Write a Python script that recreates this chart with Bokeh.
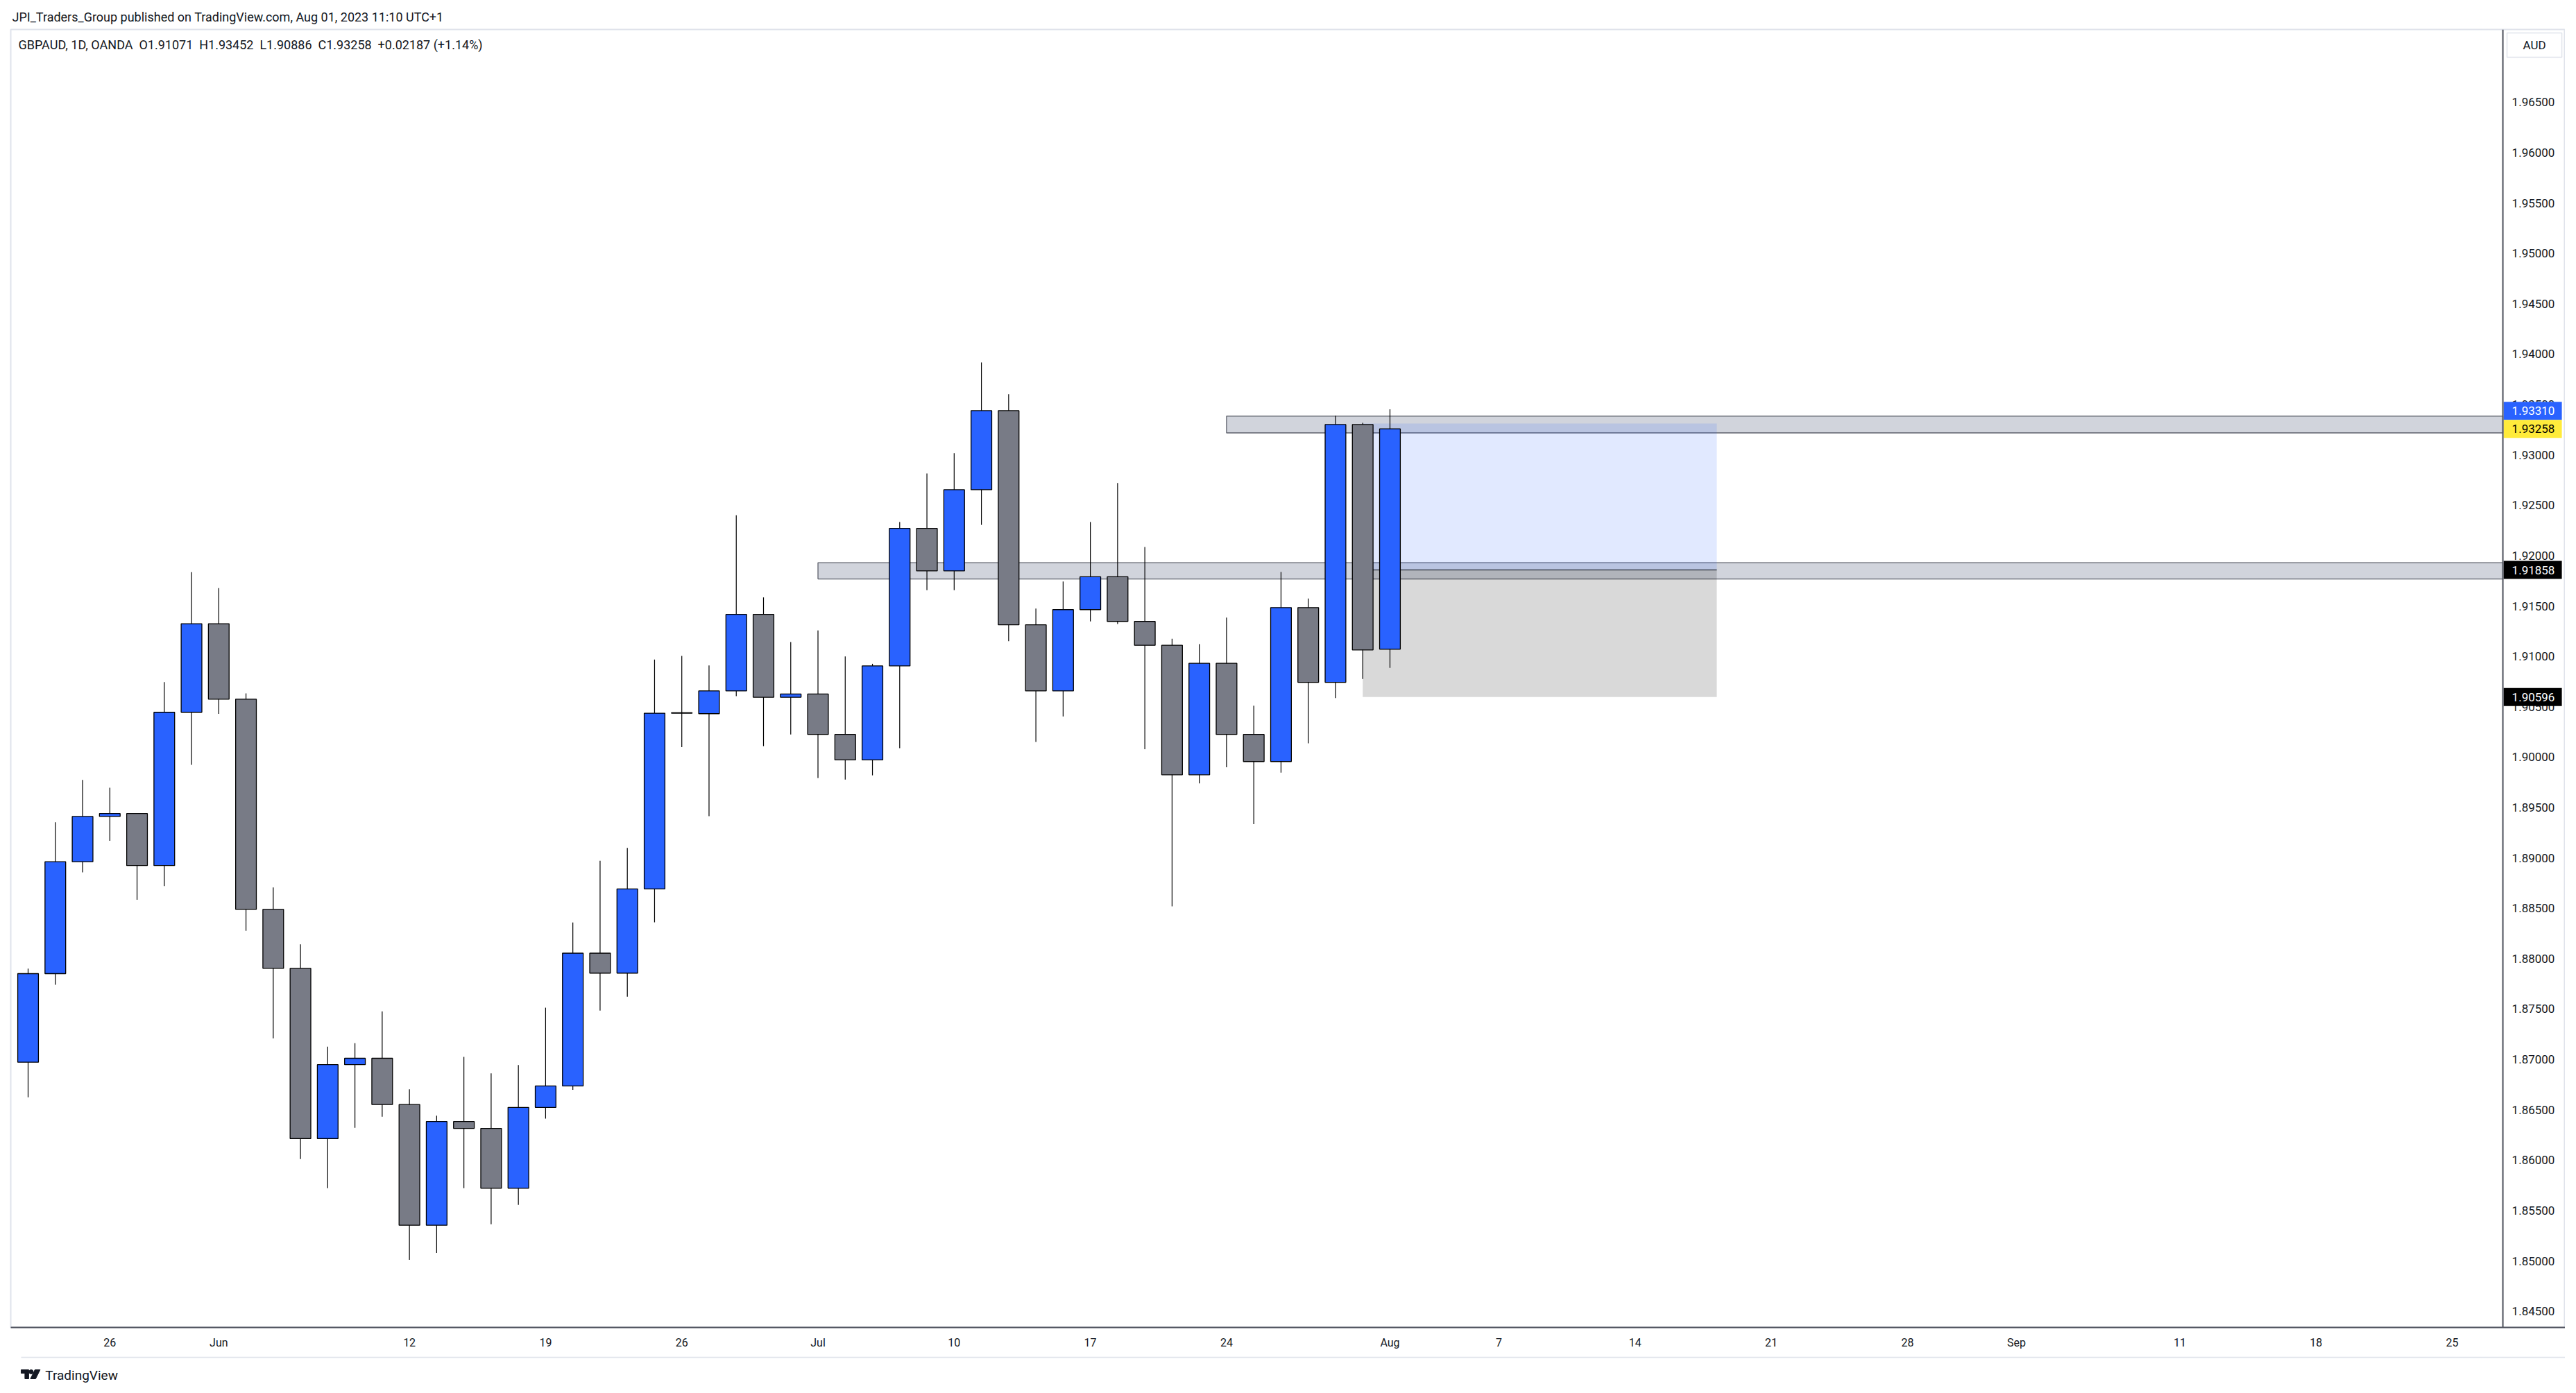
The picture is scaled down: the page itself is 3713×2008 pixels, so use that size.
import pandas as pd
from bokeh.plotting import figure
from bokeh.layouts import column
from bokeh.models import Range1d, FixedTicker, Label, ColumnDataSource, Span
from bokeh.core.properties import value
from bokeh.embed import file_html
from bokeh.resources import INLINE

# ---------------- data ----------------
dates = pd.bdate_range("2023-05-23", "2023-08-01")          # 51 daily candles
calendar = pd.bdate_range("2023-05-23", "2023-09-29")       # time scale incl. future

opens = [1.86972, 1.87851, 1.88962, 1.89411, 1.89440, 1.88924, 1.90445, 1.91324, 1.90575, 1.88489,
         1.87904, 1.86214, 1.86948, 1.87011, 1.86552, 1.85354, 1.86383, 1.86315, 1.85721, 1.86523,
         1.86736, 1.88054, 1.87856, 1.88692, 1.90436, 1.90431, 1.90657, 1.91416, 1.90594, 1.90626,
         1.90225, 1.89972, 1.90905, 1.92270, 1.91848, 1.92654, 1.93439, 1.91313, 1.90657, 1.91464,
         1.91790, 1.91347, 1.91110, 1.89825, 1.90931, 1.90225, 1.89956, 1.91484, 1.90742, 1.93301,
         1.91071]
highs = [1.87900, 1.89353, 1.89774, 1.89696, 1.89445, 1.90744, 1.91836, 1.91677, 1.90633, 1.88706,
         1.88141, 1.87127, 1.87161, 1.87475, 1.86702, 1.86441, 1.87025, 1.86861, 1.86943, 1.87513,
         1.88358, 1.88972, 1.89098, 1.90968, 1.91005, 1.90910, 1.92401, 1.91585, 1.91142, 1.91258,
         1.91000, 1.90926, 1.92333, 1.92815, 1.93016, 1.93917, 1.93601, 1.91474, 1.91743, 1.92333,
         1.92720, 1.92085, 1.91174, 1.91121, 1.91384, 1.90510, 1.91837, 1.91574, 1.93388, 1.93317,
         1.93452]
lows = [1.86624, 1.87740, 1.88856, 1.89170, 1.88585, 1.88721, 1.89923, 1.90430, 1.88276, 1.87209,
        1.86011, 1.85721, 1.86320, 1.86431, 1.85011, 1.85079, 1.85721, 1.85364, 1.85557, 1.86412,
        1.86697, 1.87484, 1.87622, 1.88360, 1.90099, 1.89414, 1.90605, 1.90109, 1.90225, 1.89793,
        1.89777, 1.89819, 1.90088, 1.91657, 1.91657, 1.92305, 1.91151, 1.90151, 1.90404, 1.91347,
        1.91321, 1.90078, 1.88518, 1.89740, 1.89899, 1.89335, 1.89846, 1.90136, 1.90586, 1.90776,
        1.90886]
closes = [1.87851, 1.88962, 1.89411, 1.89440, 1.88924, 1.90445, 1.91324, 1.90575, 1.88489, 1.87904,
          1.86214, 1.86948, 1.87011, 1.86552, 1.85354, 1.86383, 1.86315, 1.85721, 1.86523, 1.86736,
          1.88054, 1.87856, 1.88692, 1.90436, 1.90440, 1.90657, 1.91416, 1.90594, 1.90626, 1.90225,
          1.89972, 1.90905, 1.92270, 1.91848, 1.92654, 1.93439, 1.91313, 1.90657, 1.91464, 1.91790,
          1.91347, 1.91110, 1.89825, 1.90931, 1.90225, 1.89956, 1.91484, 1.90742, 1.93301, 1.91064,
          1.93258]

x_tick_dates = ["2023-05-26", "2023-06-01", "2023-06-12", "2023-06-19", "2023-06-26", "2023-07-03",
                "2023-07-10", "2023-07-17", "2023-07-24", "2023-08-01", "2023-08-07", "2023-08-14",
                "2023-08-21", "2023-08-28", "2023-09-01", "2023-09-11", "2023-09-18", "2023-09-25"]
x_tick_labels = ["26", "Jun", "12", "19", "26", "Jul", "10", "17", "24", "Aug", "7", "14",
                 "21", "28", "Sep", "11", "18", "25"]
y_ticks = [1.845, 1.850, 1.855, 1.860, 1.865, 1.870, 1.875, 1.880, 1.885, 1.890, 1.895, 1.900,
           1.905, 1.910, 1.915, 1.920, 1.925, 1.930, 1.935, 1.940, 1.945, 1.950, 1.955, 1.960, 1.965]

# zones (rectangles extended to the right)
zone_start_dates = ["2023-07-24", "2023-07-03"]
zone_bottoms = [1.93218, 1.91768]
zone_tops = [1.93384, 1.91930]

# long position tool
pos_start_date, pos_end_date = "2023-07-31", "2023-08-17"
pos_target, pos_entry, pos_stop = 1.93310, 1.91858, 1.90596

title_text = "JPI_Traders_Group published on TradingView.com, Aug 01, 2023 11:10 UTC+1"
NB = "\u00a0"
legend_text = ("GBPAUD, 1D, OANDA" + NB * 2 + "O1.91071" + NB * 2 + "H1.93452" + NB * 2 +
               "L1.90886" + NB * 2 + "C1.93258" + NB * 2 + "+0.02187 (+1.14%)")

# ---------------- figure ----------------
UP, DOWN, TXT = "#2962FF", "#787B86", "#131722"
FONT = "Roboto"

W = 3697
FL, FT, FB = 15, 42, 1913           # frame left / top / bottom (page px)
FW, FH = W - FL, FB - FT
X0, X1 = -0.6368, 93.15
Y0, Y1 = 1.843395, 1.972216
px_x = (X1 - X0) / FW
px_y = (Y1 - Y0) / FH
x_sep = 90.86                        # price-scale border

p = figure(width=W, height=1955, x_range=Range1d(X0, X1), y_range=Range1d(Y0, Y1),
           output_backend="svg", toolbar_location=None, y_axis_location=None,
           min_border_left=FL, min_border_right=0, min_border_top=FT, min_border_bottom=1955 - FB,
           background_fill_color="white", border_fill_color="white")
p.grid.visible = False
p.outline_line_color = "#E0E3EB"
p.outline_line_width = 2

p.title.text = title_text
p.title.text_font = FONT
p.title.text_font_size = "18px"
p.title.text_font_style = "normal"
p.title.text_color = TXT
p.title.align = "left"
p.title.offset = 2
p.title.standoff = 15

ax = p.xaxis[0]
ax.axis_line_color = "#50535E"
ax.axis_line_width = 2
ax.major_tick_line_color = None
ax.minor_tick_line_color = None
ax.major_tick_out = 0
ax.major_tick_in = 0
ax.minor_tick_out = 0
ax.major_label_text_font = FONT
ax.major_label_text_font_size = "16px"
ax.major_label_text_color = TXT
idx_ticks = [int(calendar.get_loc(pd.Timestamp(d))) for d in x_tick_dates]
ax.ticker = FixedTicker(ticks=idx_ticks)
ax.major_label_overrides = {i: lab for i, lab in zip(idx_ticks, x_tick_labels)}
ax.major_label_standoff = 12

# zones
zl = [int(calendar.get_loc(pd.Timestamp(d))) for d in zone_start_dates]
p.quad(left=zl, right=[x_sep] * len(zl), top=zone_tops, bottom=zone_bottoms,
       fill_color="#D1D4DC", line_color="#5D606B", line_width=1.3)

# position tool
ps = int(calendar.get_loc(pd.Timestamp(pos_start_date)))
pe = int(calendar.get_loc(pd.Timestamp(pos_end_date)))
p.quad(left=[ps], right=[pe], top=[pos_target], bottom=[pos_entry],
       fill_color=UP, fill_alpha=0.14, line_color=None)
p.quad(left=[ps], right=[pe], top=[pos_entry], bottom=[pos_stop],
       fill_color="black", fill_alpha=0.15, line_color=None)
p.segment(x0=[ps], y0=[pos_entry], x1=[pe], y1=[pos_entry], line_color=TXT, line_alpha=0.7, line_width=1.5)

# candles
xi = [int(calendar.get_loc(d)) for d in dates]
src = ColumnDataSource(dict(
    x=xi, o=opens, h=highs, l=lows, c=closes,
    top=[max(o, c) for o, c in zip(opens, closes)],
    bot=[min(o, c) for o, c in zip(opens, closes)],
    col=[UP if c >= o else DOWN for o, c in zip(opens, closes)],
))
p.segment(x0="x", y0="l", x1="x", y1="h", line_color="black", line_width=1.2, source=src)
p.vbar(x="x", width=0.76, top="top", bottom="bot", fill_color="col", line_color="black",
       line_width=1.3, source=src)

# price scale (inside the frame, right of the border line)
p.add_layout(Span(location=x_sep, dimension="height", line_color="#50535E", line_width=2))
x_txt = x_sep + 13 * px_x
p.text(x=[x_txt] * len(y_ticks), y=y_ticks, text=[f"{v:.5f}" for v in y_ticks],
       text_font=value(FONT), text_font_size="17px", text_color=TXT,
       text_align="left", text_baseline="middle")

lab_h = 26 * px_y
box_y = [closes[-1] + lab_h, closes[-1], pos_entry, pos_stop]
box_txt = [f"{pos_target:.5f}", f"{closes[-1]:.5f}", f"{pos_entry:.5f}", f"{pos_stop:.5f}"]
box_bg = [UP, "#FFEB3B", "black", "black"]
box_fg = ["white", "black", "white", "white"]
p.quad(left=[x_sep + 1 * px_x] * 4, right=[x_sep + 85 * px_x] * 4,
       top=[v + 13 * px_y for v in box_y], bottom=[v - 13 * px_y for v in box_y],
       fill_color=box_bg, line_color=None)
p.text(x=[x_txt] * 4, y=box_y, text=box_txt, text_color=box_fg, text_font=value(FONT),
       text_font_size="17px", text_align="left", text_baseline="middle")

# currency box
p.quad(left=[x_sep + 6 * px_x], right=[x_sep + 85 * px_x], top=[Y1 - 5 * px_y], bottom=[Y1 - 40 * px_y],
       fill_color="white", line_color="#E0E3EB", line_width=1.5)
p.text(x=[x_sep + 45.5 * px_x], y=[Y1 - 22.5 * px_y], text=["AUD"], text_font=value(FONT),
       text_font_size="17px", text_color=TXT, text_align="center", text_baseline="middle")

# legend line inside pane
p.add_layout(Label(x=X0 + 11 * px_x, y=Y1 - 22 * px_y, text=legend_text, text_font=FONT,
                   text_font_size="18px", text_color=TXT, text_baseline="middle", text_align="left"))

# ---------------- footer with TradingView logo ----------------
foot = figure(width=W, height=45, x_range=Range1d(0, W), y_range=Range1d(0, 45),
              output_backend="svg", toolbar_location=None, x_axis_location=None, y_axis_location=None,
              min_border=0, outline_line_color=None, background_fill_color="white",
              border_fill_color="white")
foot.grid.visible = False
foot.segment(x0=[15], y0=[44], x1=[W], y1=[44], line_color="#E0E3EB", line_width=2)
foot.patch(x=[15, 26, 26, 20.5, 20.5, 15], y=[26, 26, 13, 13, 21, 21], color="#131722")
foot.scatter(x=[29.5], y=[23], size=6, color="#131722")
foot.patch(x=[35, 42.5, 36, 28.5], y=[26, 26, 13, 13], color="#131722")
foot.text(x=[50], y=[18], text=["TradingView"], text_font=value(FONT), text_font_size="19px",
          text_color=TXT, text_align="left", text_baseline="middle")

open("out.html", "w").write(file_html(column(p, foot, spacing=0), INLINE))
